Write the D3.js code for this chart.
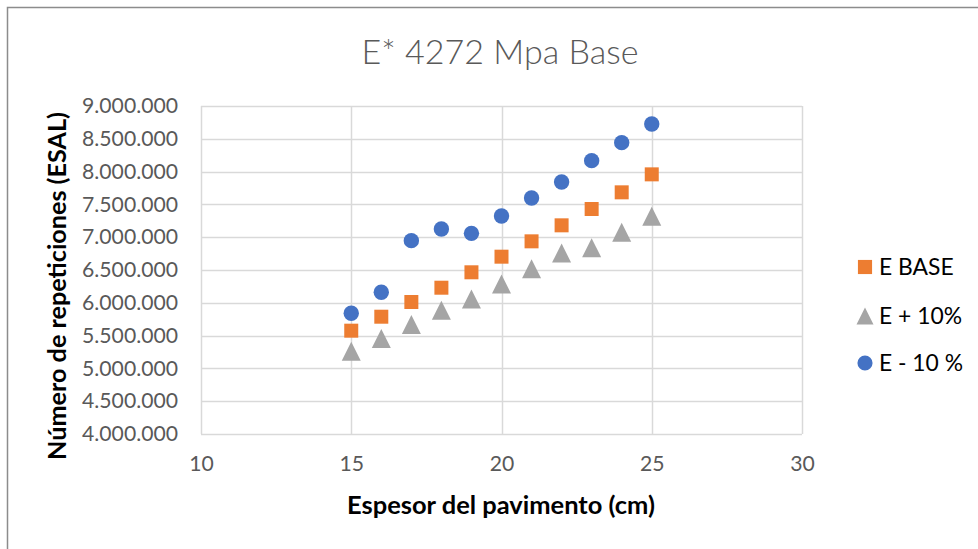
<!DOCTYPE html>
<html>
<head>
<meta charset="utf-8">
<script src="https://cdn.jsdelivr.net/npm/d3@7.9.0/dist/d3.min.js"></script>
<style>
  html, body { margin: 0; padding: 0; background: #fff; }
  svg { display: block; font-family: Lato, 'Open Sans', sans-serif; }
</style>
</head>
<body>
<svg id="chart" width="978" height="549"></svg>
<script>
const thickness = [15, 16, 17, 18, 19, 20, 21, 22, 23, 24, 25];
const eBase = [5575000, 5788000, 6012000, 6230000, 6465000, 6703000, 6937000, 7181000, 7430000, 7684000, 7958000];
const ePlus10 = [5262000, 5456000, 5669000, 5885000, 6058000, 6287000, 6520000, 6759000, 6840000, 7076000, 7318000];
const eMinus10 = [5840000, 6160000, 6947000, 7125000, 7059000, 7323000, 7598000, 7841000, 8167000, 8441000, 8726000];
const xTicks = [10, 15, 20, 25, 30];
const yTicks = [4000000, 4500000, 5000000, 5500000, 6000000, 6500000, 7000000, 7500000, 8000000, 8500000, 9000000];

const svg = d3.select('#chart');
const plot = { left: 201, right: 802, top: 106, bottom: 434 };

const x = d3.scaleLinear().domain([10, 30]).range([plot.left, plot.right]);
const y = d3.scaleLinear().domain([4000000, 9000000]).range([plot.bottom, plot.top]);

const fmt = (v) => d3.format(',')(v).replace(/,/g, '.');

// pick a font size so the text takes the given width (Calibri is not installed)
function fitSize(sel, width) {
  sel.style('font-size', '20px');
  const len = sel.node().getComputedTextLength();
  const size = 20 * width / len;
  sel.style('font-size', `${size}px`);
  return size;
}

// triangle centred on its bounding box, like the Excel marker
const triangleBox = {
  draw(context, size) {
    const h = Math.sqrt(size);
    context.moveTo(0, -h / 2);
    context.lineTo(h / 2, h / 2);
    context.lineTo(-h / 2, h / 2);
    context.closePath();
  }
};

// outer chart border
svg.append('rect')
  .attr('x', 7.5).attr('y', 7.5)
  .attr('width', 990).attr('height', 560)
  .attr('fill', '#fff')
  .attr('stroke', '#8c8c8c')
  .attr('stroke-width', 1.5);

// gridlines
svg.append('g')
  .selectAll('line')
  .data(yTicks)
  .join('line')
  .attr('x1', plot.left).attr('x2', plot.right)
  .attr('y1', (d) => Math.round(y(d)) + 0.5).attr('y2', (d) => Math.round(y(d)) + 0.5)
  .attr('stroke', '#d9d9d9')
  .attr('stroke-width', 1.5);

svg.append('g')
  .selectAll('line')
  .data(xTicks)
  .join('line')
  .attr('x1', (d) => Math.round(x(d)) + 0.5).attr('x2', (d) => Math.round(x(d)) + 0.5)
  .attr('y1', plot.top).attr('y2', plot.bottom)
  .attr('stroke', '#d9d9d9')
  .attr('stroke-width', 1.5);

// tick labels
const yAxis = svg.append('g')
  .attr('transform', `translate(${plot.left},0)`)
  .call(d3.axisLeft(y).tickValues(yTicks).tickFormat(fmt).tickSize(0).tickPadding(23));
yAxis.select('.domain').remove();
const tickSize = fitSize(yAxis.select('.tick:last-of-type text').style('font-family', 'Lato, sans-serif'), 96);
yAxis.selectAll('text')
  .attr('fill', '#595959')
  .style('font-size', `${tickSize}px`)
  .style('font-family', 'Lato, sans-serif');

const xAxis = svg.append('g')
  .attr('transform', `translate(0,${plot.bottom})`)
  .call(d3.axisBottom(x).tickValues(xTicks).tickFormat(d3.format('d')).tickSize(0).tickPadding(22));
xAxis.select('.domain').remove();
xAxis.selectAll('text')
  .attr('fill', '#595959')
  .style('font-size', `${tickSize}px`)
  .style('font-family', 'Lato, sans-serif');

// title
const title = svg.append('text')
  .attr('x', 500).attr('y', 64)
  .attr('text-anchor', 'middle')
  .attr('fill', '#595959')
  .style('font-weight', 300)
  .text('E* 4272 Mpa Base');
fitSize(title, 277);

// axis titles
const xTitle = svg.append('text')
  .attr('x', 501).attr('y', 514)
  .attr('text-anchor', 'middle')
  .attr('fill', '#000')
  .style('font-weight', 700)
  .text('Espesor del pavimento (cm)');
fitSize(xTitle, 308);

const yTitle = svg.append('text')
  .attr('transform', 'translate(66,286) rotate(-90)')
  .attr('text-anchor', 'middle')
  .attr('fill', '#000')
  .style('font-weight', 700)
  .text('Número de repeticiones (ESAL)');
fitSize(yTitle, 348);

// series
const series = [
  { name: 'E BASE', values: eBase, color: '#ED7D31', shape: d3.symbolSquare, size: 196 },
  { name: 'E + 10%', values: ePlus10, color: '#A5A5A5', shape: triangleBox, size: 361 },
  { name: 'E - 10 %', values: eMinus10, color: '#4472C4', shape: d3.symbolCircle, size: 186 }
];

series.forEach((s) => {
  svg.append('g')
    .selectAll('path')
    .data(thickness.map((t, i) => [t, s.values[i]]))
    .join('path')
    .attr('transform', (d) => `translate(${x(d[0])},${y(d[1])})`)
    .attr('d', d3.symbol().type(s.shape).size(s.size))
    .attr('fill', s.color);
});

// legend
const legend = svg.append('g');
const legendY = [267, 316, 363];
const legendSizes = [200, 290, 180];
let legendFont = null;
series.forEach((s, i) => {
  legend.append('path')
    .attr('transform', `translate(865,${legendY[i]})`)
    .attr('d', d3.symbol().type(s.shape).size(legendSizes[i]))
    .attr('fill', s.color);
  const t = legend.append('text')
    .attr('x', 879).attr('y', legendY[i])
    .attr('dy', '0.35em')
    .attr('fill', '#000')
    .text(s.name);
  if (i === 1) legendFont = fitSize(t, 83);
});
legend.selectAll('text').style('font-size', `${legendFont}px`);
</script>
</body>
</html>
